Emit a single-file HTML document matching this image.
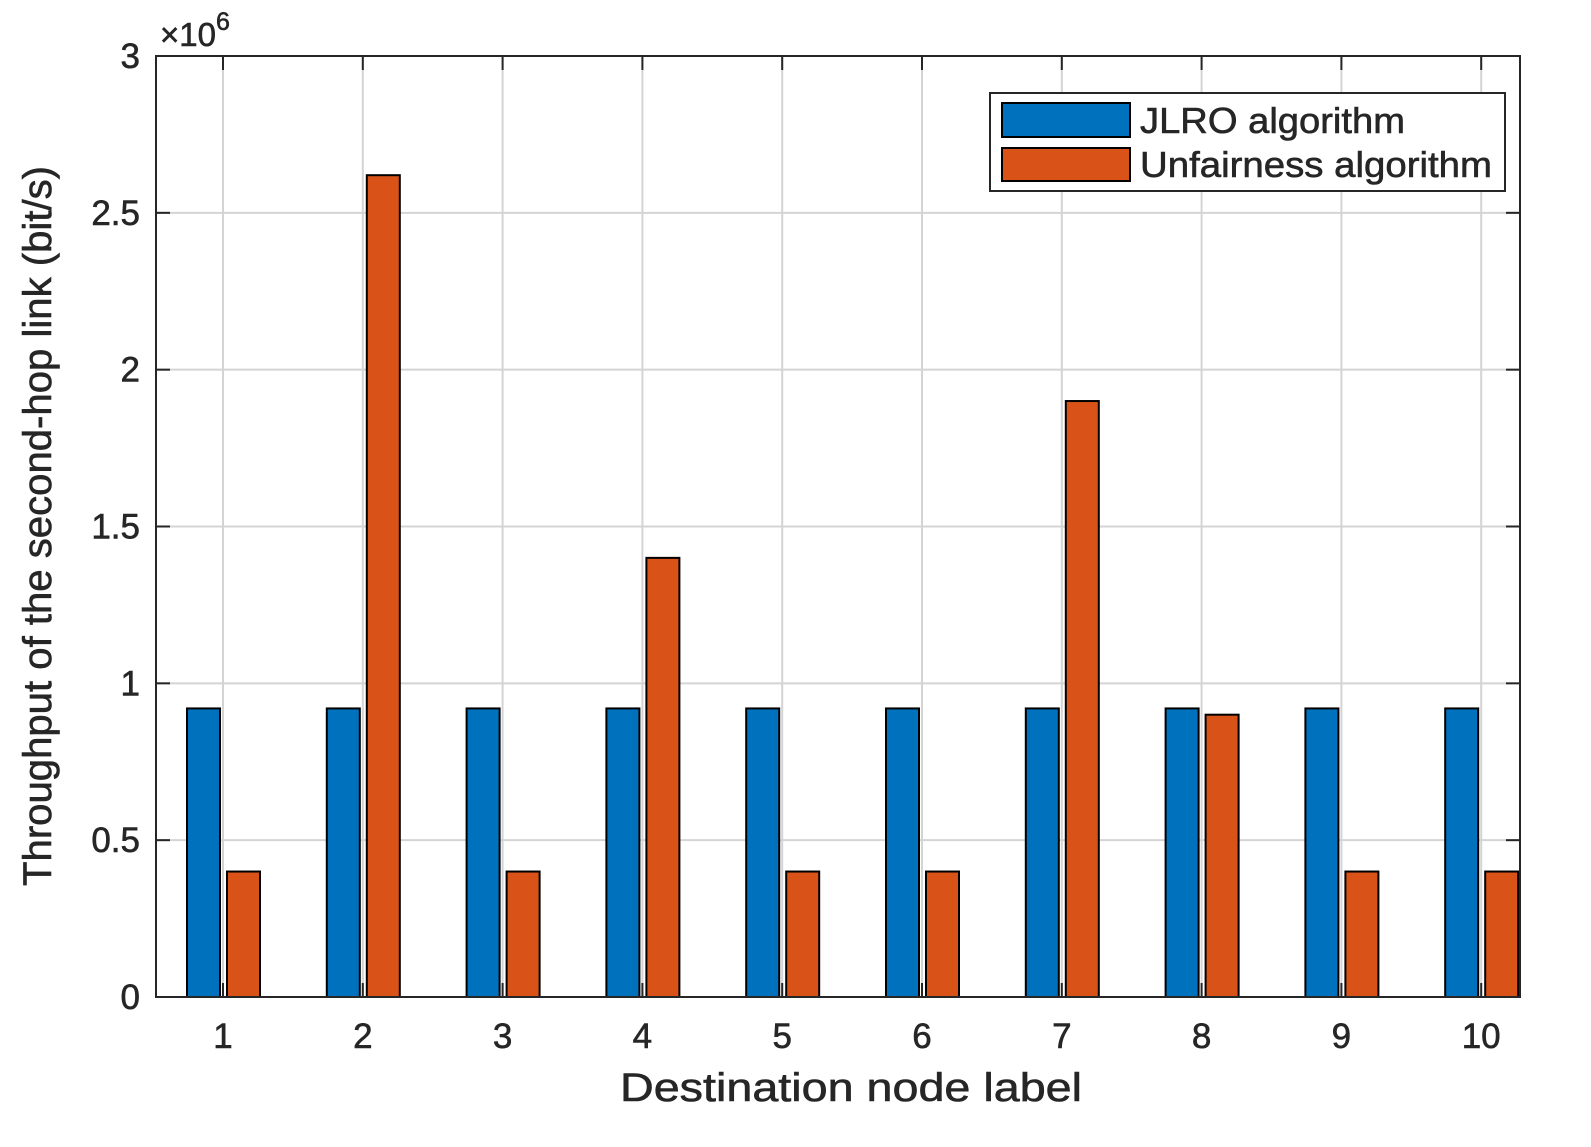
<!DOCTYPE html>
<html><head><meta charset="utf-8"><style>
body{margin:0;background:#fff}
svg text{font-family:"Liberation Sans",Arial,sans-serif;fill:#262626;stroke:#262626;stroke-width:0.6}
</style></head><body>
<svg width="1591" height="1142" xmlns="http://www.w3.org/2000/svg">
<rect width="1591" height="1142" fill="#fff"/>
<g id="grid"></g>
<g id="bars"></g>
<rect x="156" y="56" width="1364" height="941" fill="none" stroke="#262626" stroke-width="2"/>
<g id="ticks"></g>
<text x="160" y="46" font-size="33">×10<tspan font-size="25" dy="-16">6</tspan></text>
<text x="851" y="1101" font-size="40" text-anchor="middle" textLength="462" lengthAdjust="spacingAndGlyphs">Destination node label</text>
<text transform="translate(51,526) rotate(-90)" font-size="40" text-anchor="middle" textLength="720" lengthAdjust="spacingAndGlyphs">Throughput of the second-hop link (bit/s)</text>
<g>
<rect x="990" y="93" width="515" height="98" fill="#fff" stroke="#262626" stroke-width="2"/>
<rect x="1002" y="103" width="128" height="34" fill="#0072BD" stroke="#000" stroke-width="2"/>
<text x="1140" y="133" font-size="36" textLength="265" lengthAdjust="spacingAndGlyphs">JLRO algorithm</text>
<rect x="1002" y="148" width="128" height="33" fill="#D95319" stroke="#000" stroke-width="2"/>
<text x="1140" y="177" font-size="36" textLength="352" lengthAdjust="spacingAndGlyphs">Unfairness algorithm</text>
</g>
</svg>
<script>
const categories=["1","2","3","4","5","6","7","8","9","10"];
const jlro=[0.92e6,0.92e6,0.92e6,0.92e6,0.92e6,0.92e6,0.92e6,0.92e6,0.92e6,0.92e6];
const unfair=[0.4e6,2.62e6,0.4e6,1.4e6,0.4e6,0.4e6,1.9e6,0.9e6,0.4e6,0.4e6];
const yTicks=[0,0.5e6,1e6,1.5e6,2e6,2.5e6,3e6];
const yTickLabels=["0","0.5","1","1.5","2","2.5","3"];
const NS="http://www.w3.org/2000/svg";
const L=156,R=1520,T=56,B=997;
const xs=i=>223+i*139.8;
const ys=v=>B-(v/3e6)*(B-T);
function mk(tag,attrs,parent){const e=document.createElementNS(NS,tag);for(const k in attrs)e.setAttribute(k,attrs[k]);parent.appendChild(e);return e;}
const grid=document.getElementById('grid'),bars=document.getElementById('bars'),ticks=document.getElementById('ticks');
yTicks.forEach((v,i)=>{const y=ys(v);
 const g=mk('line',{x1:L,x2:R,y1:y,y2:y,stroke:'#d4d4d4','stroke-width':2},grid);
 
 
 mk('line',{x1:L,x2:L+14,y1:y,y2:y,stroke:'#262626','stroke-width':2},ticks);
 mk('line',{x1:R-14,x2:R,y1:y,y2:y,stroke:'#262626','stroke-width':2},ticks);
 const t=mk('text',{x:L-16,y:y+12,'font-size':35,'text-anchor':'end'},ticks);t.textContent=yTickLabels[i];
 
 
});
categories.forEach((c,i)=>{const x=xs(i);
 const g=mk('line',{x1:x,x2:x,y1:T,y2:B,stroke:'#d4d4d4','stroke-width':2},grid);
 
 
 mk('line',{x1:x,x2:x,y1:B-14,y2:B,stroke:'#262626','stroke-width':2},ticks);
 mk('line',{x1:x,x2:x,y1:T,y2:T+14,stroke:'#262626','stroke-width':2},ticks);
 const t=mk('text',{x:x,y:B+51,'font-size':35,'text-anchor':'middle'},ticks);t.textContent=c;
 
 
 const b1=mk('rect',{x:x-36,y:ys(jlro[i]),width:33,height:B-ys(jlro[i]),fill:'#0072BD',stroke:'#000','stroke-width':2},bars);
 
 
 const b2=mk('rect',{x:x+4,y:ys(unfair[i]),width:33,height:B-ys(unfair[i]),fill:'#D95319',stroke:'#000','stroke-width':2},bars);
 
 
});
</script>
</body></html>
